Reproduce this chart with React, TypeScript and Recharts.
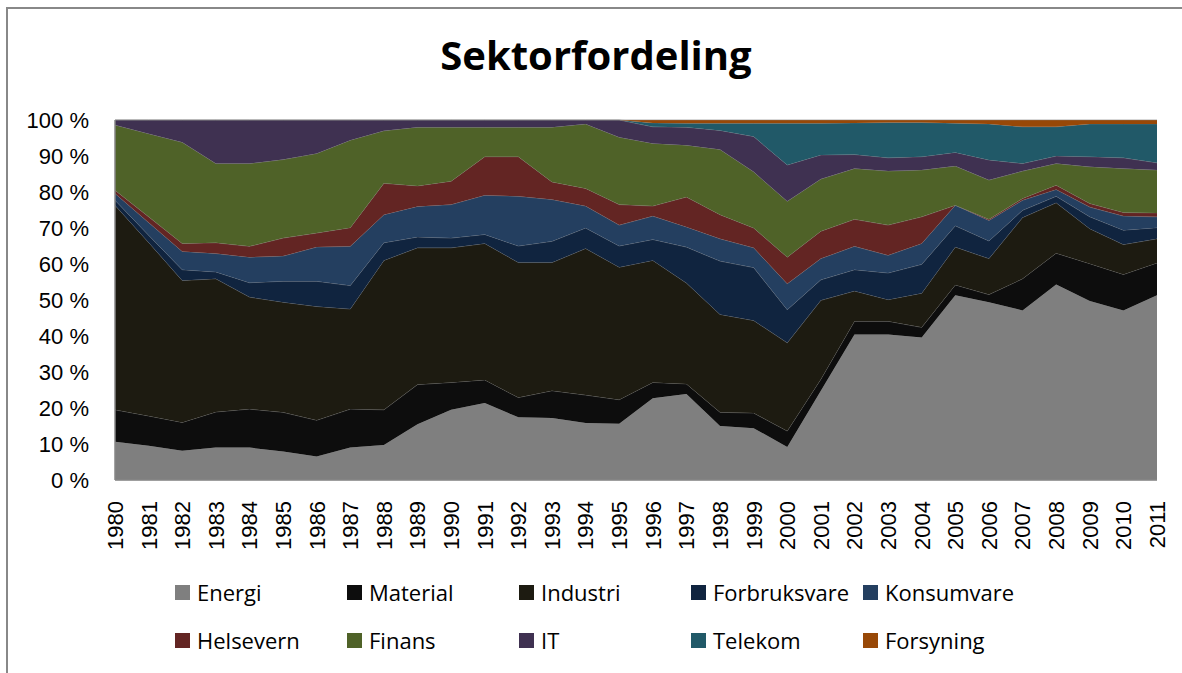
import React from "react";
import { AreaChart, Area, XAxis, YAxis, CartesianGrid, Legend } from "recharts";

const years = ["1980","1981","1982","1983","1984","1985","1986","1987","1988","1989","1990","1991","1992","1993","1994","1995","1996","1997","1998","1999","2000","2001","2002","2003","2004","2005","2006","2007","2008","2009","2010","2011"];

const energi = [10.6,9.5,8.1,9.0,9.0,7.9,6.5,9.0,9.7,15.5,19.5,21.4,17.4,17.2,15.8,15.6,22.7,23.9,15.0,14.4,9.2,24.8,40.4,40.4,39.6,51.3,49.4,47.1,54.3,49.7,47.1,51.3];
const material = [8.9,8.3,7.9,9.9,10.7,10.9,10.1,10.7,9.8,11.0,7.6,6.4,5.5,7.6,7.8,6.7,4.4,2.8,3.8,4.2,4.4,3.2,3.7,3.7,2.8,2.9,2.1,8.8,8.7,10.4,10.0,9.0];
const industri = [56.8,48.2,39.4,37.0,31.1,30.6,31.6,27.8,41.5,38.0,37.4,37.9,37.5,35.6,40.7,36.8,33.9,28.0,27.2,25.7,24.5,21.9,8.4,6.0,9.5,10.5,10.0,17.0,14.0,9.7,8.3,6.7];
const forbruksvare = [1.4,2.0,3.0,1.9,4.0,5.8,7.0,6.5,4.9,3.0,2.7,2.5,4.6,5.9,5.7,5.9,5.8,10.0,14.8,14.7,9.2,5.7,5.9,7.4,8.0,5.9,4.9,2.0,1.8,3.3,4.0,3.1];
const konsumvare = [1.9,3.5,5.1,5.1,7.1,7.0,9.5,10.9,7.8,8.5,9.3,10.9,13.8,11.6,6.1,5.8,6.5,5.6,6.2,5.5,7.2,5.9,6.5,4.9,5.8,5.7,5.7,2.8,1.9,2.7,3.9,3.0];
const helsevern = [0.9,1.6,2.2,3.0,3.0,5.0,3.9,5.2,8.7,5.7,6.5,10.7,11.0,4.9,4.9,5.7,2.8,8.3,6.7,5.5,7.4,7.6,7.5,8.4,7.4,0.0,0.3,0.5,1.2,1.0,1.0,1.1];
const finans = [18.1,23.1,28.1,22.0,23.0,21.8,22.1,24.3,14.6,16.3,15.0,8.2,8.2,15.2,17.9,18.7,17.4,14.4,18.1,15.6,15.5,14.5,14.1,15.0,13.0,10.9,10.9,7.6,6.0,10.2,12.2,11.9];
const it = [1.4,3.8,6.2,12.1,12.1,11.0,9.3,5.6,3.0,2.0,2.0,2.0,2.0,2.0,1.1,4.8,4.6,5.0,5.3,9.8,10.1,6.7,3.9,3.7,3.7,3.8,5.6,2.1,2.1,2.8,3.0,2.0];
const telekom = [0,0,0,0,0,0,0,0,0,0,0,0,0,0,0,0,1.1,1.1,2.0,3.7,11.6,8.8,8.8,9.8,9.5,8.1,10.0,10.2,8.1,9.1,9.4,10.8];
const forsyning = [0,0,0,0,0,0,0,0,0,0,0,0,0,0,0,0,0.8,0.9,0.9,0.9,0.9,0.9,0.8,0.7,0.7,0.9,1.1,1.9,1.9,1.1,1.1,1.1];

const yTicks = [0, 0.1, 0.2, 0.3, 0.4, 0.5, 0.6, 0.7, 0.8, 0.9, 1];

const series = [
  { key: "Energi", values: energi, color: "#7f7f7f" },
  { key: "Material", values: material, color: "#0d0d0d" },
  { key: "Industri", values: industri, color: "#1d1b11" },
  { key: "Forbruksvare", values: forbruksvare, color: "#10243f" },
  { key: "Konsumvare", values: konsumvare, color: "#243f60" },
  { key: "Helsevern", values: helsevern, color: "#632523" },
  { key: "Finans", values: finans, color: "#4f6228" },
  { key: "IT", values: it, color: "#3f3151" },
  { key: "Telekom", values: telekom, color: "#215968" },
  { key: "Forsyning", values: forsyning, color: "#984807" },
];

const data = years.map((year, i) => {
  const row: Record<string, number | string> = { year };
  series.forEach((s) => {
    row[s.key] = s.values[i];
  });
  return row;
});

const YearTick = (props: any) => {
  const { x, y, payload } = props;
  const ty = y + 19;
  return (
    <text
      x={x}
      y={ty}
      dy="0.36em"
      transform={`rotate(-90 ${x} ${ty})`}
      textAnchor="end"
      fill="#000"
      fontSize={22}
      fontFamily="'Liberation Sans', Arial, sans-serif"
    >
      {payload.value}
    </text>
  );
};

const LegendContent = () => {
  return (
    <div style={{ position: "relative", width: 1182, height: 90 }}>
      {series.map((s, i) => {
        const col = i % 5;
        const row = Math.floor(i / 5);
        const left = 175 + col * 172;
        const top = row * 48;
        return (
          <div
            key={s.key}
            style={{
              position: "absolute",
              left,
              top,
              height: 34,
              display: "flex",
              alignItems: "center",
              whiteSpace: "nowrap",
            }}
          >
            <span style={{ display: "inline-block", width: 15, height: 15, background: s.color, marginRight: 7 }} />
            <span style={{ fontFamily: "'Open Sans', sans-serif", fontSize: 22, color: "#000", lineHeight: "34px" }}>
              {s.key}
            </span>
          </div>
        );
      })}
    </div>
  );
};

export default function App() {
  return (
    <div style={{ position: "absolute", left: 0, top: 0, width: 1182, height: 673, overflow: "hidden", background: "#fff" }}>
      <div
        style={{
          position: "absolute",
          left: 6,
          top: 7,
          width: 1176,
          height: 666,
          borderLeft: "2px solid #888",
          borderTop: "2px solid #888",
          boxSizing: "border-box",
        }}
      />
      <div
        style={{
          position: "absolute",
          left: 0,
          top: 30,
          width: 1192,
          textAlign: "center",
          fontFamily: "'Open Sans', sans-serif",
          fontWeight: 700,
          fontSize: 40,
          lineHeight: "50px",
          color: "#000",
        }}
      >
        Sektorfordeling
      </div>
      <div style={{ position: "absolute", left: 0, top: 0 }}>
        <AreaChart
          width={1182}
          height={673}
          data={data}
          stackOffset="expand"
          margin={{ top: 120, right: 25, bottom: 113, left: 0 }}
        >
          <CartesianGrid vertical={false} stroke="#d9d9d9" />
          <XAxis
            dataKey="year"
            interval={0}
            tick={<YearTick />}
            tickLine={false}
            tickSize={0}
            height={80}
            axisLine={{ stroke: "#868686", strokeWidth: 1.5 }}
          />
          <YAxis
            type="number"
            domain={[0, 1]}
            ticks={yTicks}
            width={115}
            tickLine={false}
            tickSize={0}
            tickMargin={26}
            axisLine={{ stroke: "#868686", strokeWidth: 1.5 }}
            tickFormatter={(v: number) => `${Math.round(v * 100)} %`}
            tick={{ fill: "#000", fontSize: 22, fontFamily: "'Liberation Sans', Arial, sans-serif" }}
          />
          {series.map((s) => (
            <Area
              key={s.key}
              type="linear"
              dataKey={s.key}
              stackId="1"
              fill={s.color}
              fillOpacity={1}
              stroke="#8a8a8a"
              strokeWidth={0.6}
              strokeOpacity={0.7}
              isAnimationActive={false}
              dot={false}
              activeDot={false}
            />
          ))}
          <Legend
            layout="horizontal"
            verticalAlign="middle"
            align="center"
            content={<LegendContent />}
            wrapperStyle={{ left: 0, top: 575, width: 1182, height: 90 }}
          />
        </AreaChart>
      </div>
    </div>
  );
}
